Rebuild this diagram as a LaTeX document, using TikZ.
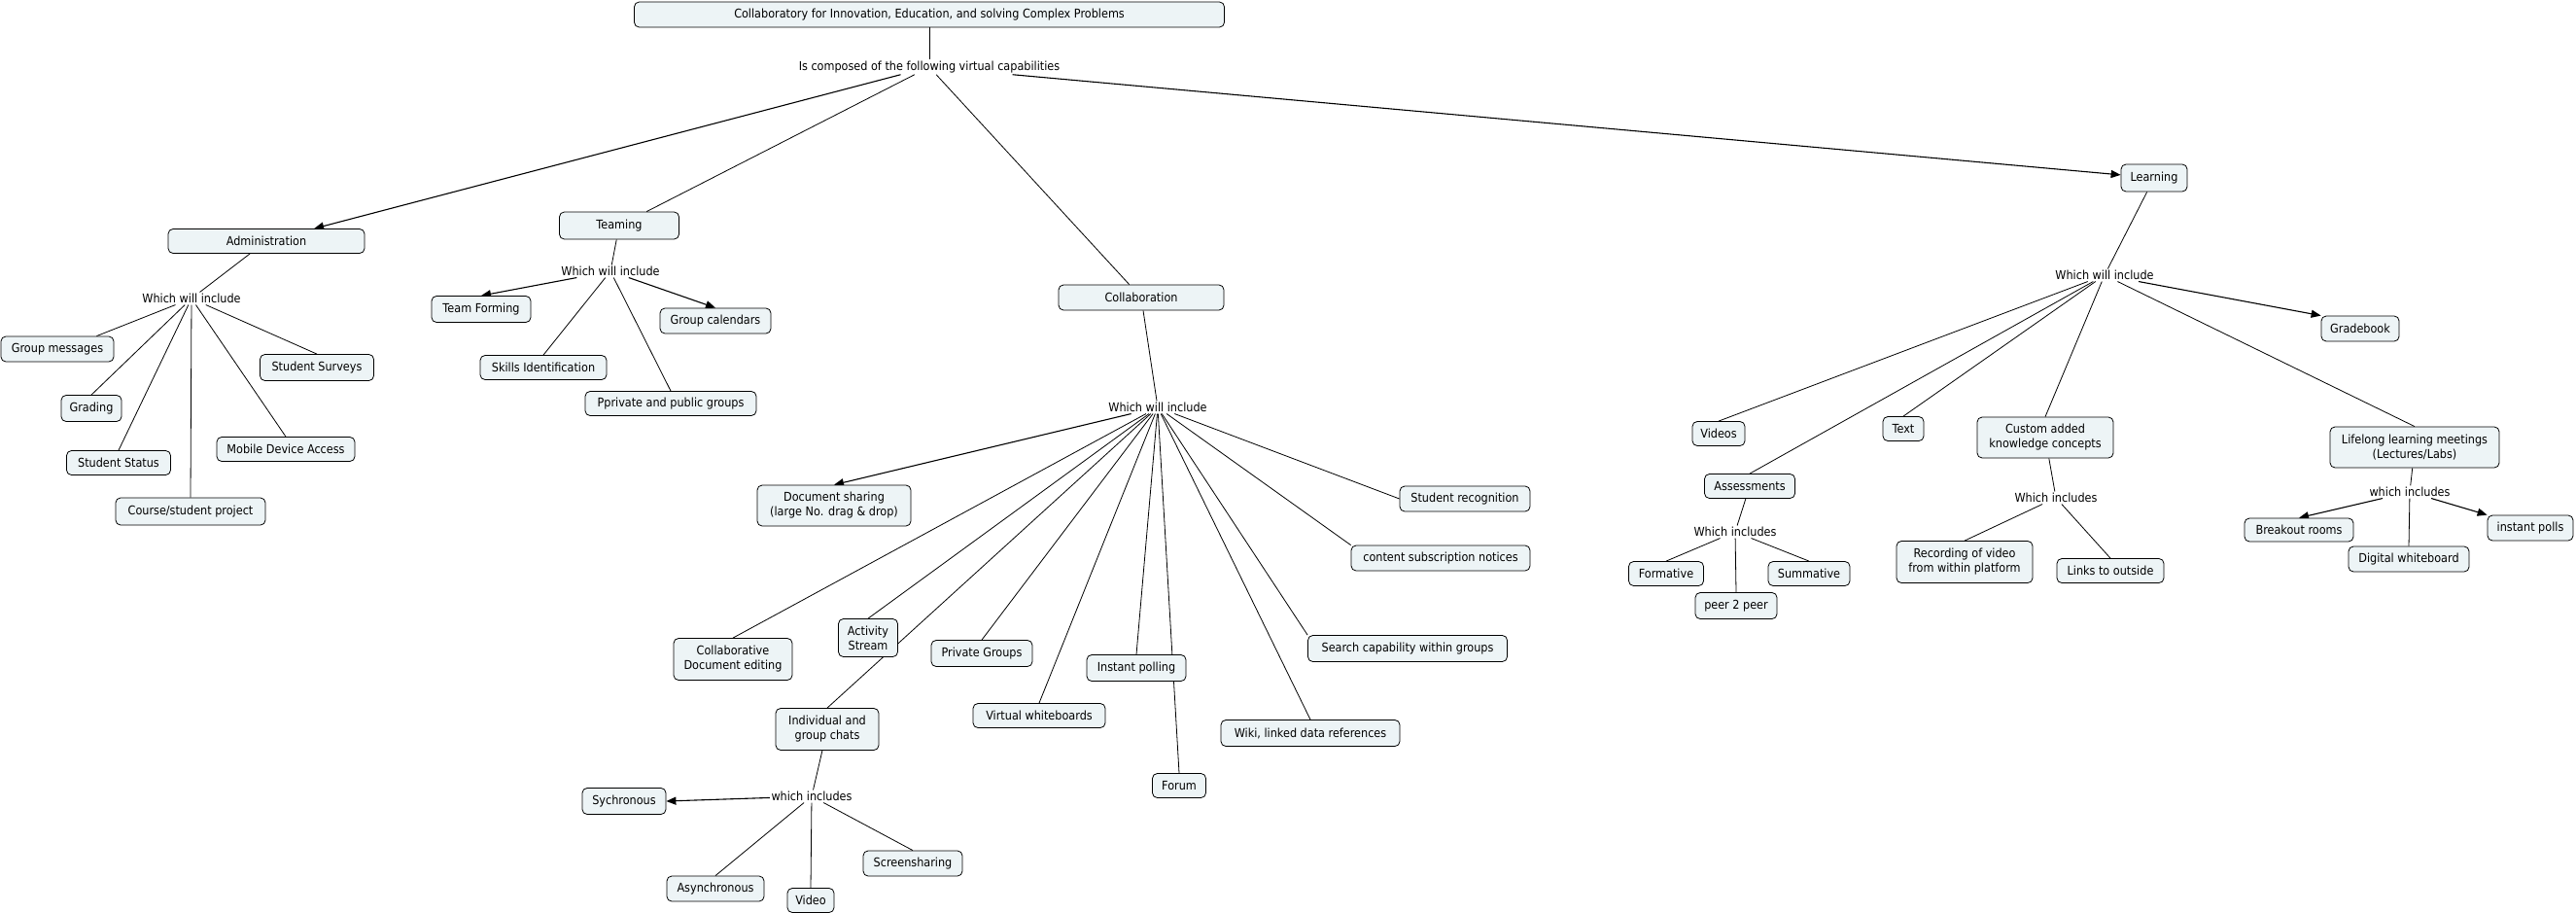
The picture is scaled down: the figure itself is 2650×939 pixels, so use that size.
\documentclass[tikz,border=0pt]{standalone}
\usepackage{fontspec}
\setmainfont{DejaVu Sans}[FakeStretch=0.9]
\usetikzlibrary{arrows.meta,backgrounds}
\definecolor{boxfill}{RGB}{237,244,246}
\tikzset{
 cbox/.style={draw=black, line width=0.8pt, rounded corners=5pt, fill=boxfill, align=center,
   font=\fontsize{12.5}{15}\selectfont, inner xsep=4pt, inner ysep=2pt},
 lbl/.style={font=\fontsize{12.5}{15}\selectfont, inner sep=1.5pt},
 ln/.style={line width=0.8pt},
 arr/.style={line width=1.1pt, -{Triangle[length=10pt,width=8pt]}},
}
\newcommand\mkbox[5]{\node[cbox,minimum width=#4pt,minimum height=#5pt] (#1) at (#2) {#3};}
\begin{document}
\begin{tikzpicture}[x=1pt,y=-1pt]
\useasboundingbox (0,0) rectangle (2650,939);
% top level
\mkbox{title}{956,15}{Collaboratory for Innovation, Education, and solving Complex Problems}{607}{26}
\node[lbl] (compL) at (956,69) {Is composed of the following virtual capabilities};
\mkbox{admin}{274,248}{Administration}{202}{25}
\mkbox{team}{637,232}{Teaming}{123}{28}
\mkbox{collab}{1174,306}{Collaboration}{170}{26}
\mkbox{learn}{2216,183}{Learning}{68}{28}
% administration
\node[lbl] (adminL) at (197,307) {Which will include};
\mkbox{gm}{59,359}{Group messages}{116}{26}
\mkbox{grading}{94,420}{Grading}{62}{27}
\mkbox{sstatus}{122,476}{Student Status}{107}{25}
\mkbox{course}{196,526}{Course/student project}{154}{28}
\mkbox{mobile}{294,462}{Mobile Device Access}{142}{25}
\mkbox{surveys}{326,378}{Student Surveys}{117}{27}
% teaming
\node[lbl] (teamL) at (628,279) {Which will include};
\mkbox{tform}{495,318}{Team Forming}{102}{27}
\mkbox{gcal}{736,330}{Group calendars}{114}{26}
\mkbox{skills}{559,378}{Skills Identification}{130}{25}
\mkbox{pprivate}{690,415}{Pprivate and public groups}{176}{25}
% collaboration
\node[lbl] (collabL) at (1191,419) {Which will include};
\mkbox{docshare}{858,520}{Document sharing\\(large No. drag \& drop)}{158}{42}
\mkbox{cde}{754,678}{Collaborative\\Document editing}{122}{43}
\mkbox{activity}{893,656}{Activity\\Stream}{61}{39}
\mkbox{chats}{851,750}{Individual and\\group chats}{106}{43}
\mkbox{privg}{1010,672}{Private Groups}{104}{27}
\mkbox{vwb}{1069,736}{Virtual whiteboards}{136}{25}
\mkbox{ipoll}{1169,687}{Instant polling}{102}{27}
\mkbox{forum}{1213,808}{Forum}{55}{25}
\mkbox{wiki}{1348,754}{Wiki, linked data references}{184}{27}
\mkbox{search}{1448,667}{Search capability within groups}{205}{27}
\mkbox{csub}{1482,574}{content subscription notices}{184}{26}
\mkbox{srec}{1507,513}{Student recognition}{134}{26}
% chats
\node[lbl] (chatsL) at (835,819) {which includes};
\mkbox{sync}{642,824}{Sychronous}{86}{27}
\mkbox{async}{736,914}{Asynchronous}{100}{26}
\mkbox{video}{834,926}{Video}{48}{25}
\mkbox{screen}{939,888}{Screensharing}{102}{26}
% learning
\node[lbl] (learnL) at (2165,283) {Which will include};
\mkbox{gradebook}{2428,338}{Gradebook}{80}{26}
\mkbox{videos}{1768,446}{Videos}{54}{25}
\mkbox{text}{1958,441}{Text}{42}{25}
\mkbox{custom}{2104,450}{Custom added\\knowledge concepts}{140}{42}
\mkbox{lifelong}{2484,460}{Lifelong learning meetings\\(Lectures/Labs)}{174}{42}
\mkbox{assess}{1800,500}{Assessments}{93}{25}
% assessments
\node[lbl] (assessL) at (1785,547) {Which includes};
\mkbox{formative}{1714,590}{Formative}{77}{25}
\mkbox{summative}{1861,590}{Summative}{84}{25}
\mkbox{peer}{1786,623}{peer 2 peer}{84}{27}
% custom
\node[lbl] (customL) at (2115,512) {Which includes};
\mkbox{recording}{2021,578}{Recording of video\\from within platform}{140}{43}
\mkbox{links}{2171,587}{Links to outside}{110}{25}
% lifelong
\node[lbl] (lifeL) at (2479,506) {which includes};
\mkbox{breakout}{2365,545}{Breakout rooms}{112}{24}
\mkbox{digital}{2478,575}{Digital whiteboard}{124}{26}
\mkbox{ipolls}{2603,543}{instant polls}{88}{26}

\begin{pgfonlayer}{background}
\fill[white] (0,0) rectangle (2650,939);
\draw[ln] (title) -- (compL);
\draw[arr] (compL) -- (admin);
\draw[ln] (compL) -- (team);
\draw[ln] (compL) -- (collab);
\draw[arr] (compL) -- (learn);
% admin
\draw[ln] (admin) -- (adminL);
\draw[ln] (adminL) -- ([xshift=-18pt]gm.north east);
\foreach \t in {grading,sstatus,course,mobile,surveys} \draw[ln] (adminL) -- (\t.north);
% teaming
\draw[ln] (team) -- (teamL);
\draw[arr] (teamL) -- (tform.north);
\draw[arr] (teamL) -- (gcal.north);
\draw[ln] (teamL) -- (skills.north);
\draw[ln] (teamL) -- (pprivate.north);
% collaboration
\draw[ln] (collab) -- (collabL);
\draw[arr] (collabL) -- (docshare.north);
\foreach \t in {cde,activity,chats,privg,vwb,ipoll,forum,wiki} \draw[ln] (collabL) -- (\t.north);
\draw[ln] (collabL) -- (search.north west);
\draw[ln] (collabL) -- (csub.north west);
\draw[ln] (collabL) -- (srec.west);
% chats
\draw[ln] (chats) -- (chatsL);
\draw[arr] (chatsL) -- (sync.east);
\foreach \t in {async,video,screen} \draw[ln] (chatsL) -- (\t.north);
% learning
\draw[ln] (learn) -- (learnL);
\draw[arr] (learnL) -- (gradebook.north west);
\foreach \t in {videos,assess,text,custom,lifelong} \draw[ln] (learnL) -- (\t.north);
% assessments
\draw[ln] (assess) -- (assessL);
\foreach \t in {formative,peer,summative} \draw[ln] (assessL) -- (\t.north);
% custom
\draw[ln] (custom) -- (customL);
\foreach \t in {recording,links} \draw[ln] (customL) -- (\t.north);
% lifelong
\draw[ln] (lifelong) -- (lifeL);
\draw[arr] (lifeL) -- (breakout.north);
\draw[arr] (lifeL) -- (ipolls.north west);
\draw[ln] (lifeL) -- (digital.north);
\end{pgfonlayer}
\end{tikzpicture}
\end{document}
